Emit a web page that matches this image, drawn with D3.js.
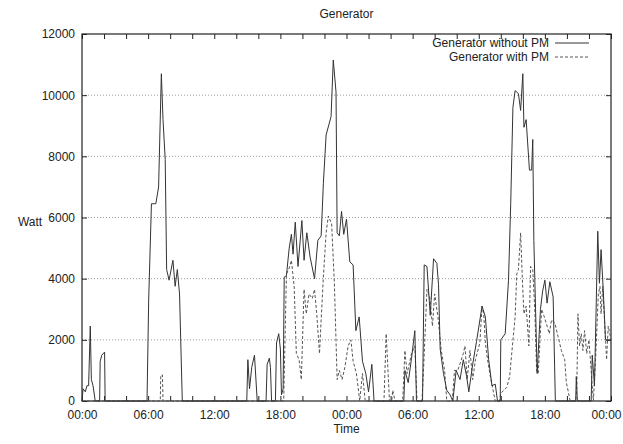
<!DOCTYPE html>
<html>
<head>
<meta charset="utf-8">
<script src="https://cdn.jsdelivr.net/npm/d3@7"></script>
<style>
  body { margin: 0; background: #fff; }
  text { font-family: "Liberation Sans", Arial, sans-serif; font-size: 12px; fill: #222; }
</style>
</head>
<body>
<script>
// hours since start (two days), watts
var withoutPm = [
  [0,0],[0.1,400],[0.3,300],[0.45,500],[0.6,500],[0.75,2450],[0.85,700],[1.0,500],[1.2,0],
  [1.6,0],[1.65,1300],[1.8,1500],[2.05,1600],[2.1,0],
  [5.9,0],[6.05,3300],[6.3,6450],[6.7,6450],[6.95,7000],[7.2,10700],[7.35,9200],[7.55,7900],
  [7.68,4300],[7.9,3950],[8.25,4600],[8.45,3750],[8.65,4300],[8.85,3500],[9.1,0],
  [14.95,0],[15.05,1350],[15.2,400],[15.4,1100],[15.65,1500],[15.9,0],
  [16.7,0],[16.8,1200],[17.0,1400],[17.1,1100],[17.2,0],
  [17.55,0],[17.65,1900],[17.85,2200],[18.0,1700],[18.1,200],[18.25,400],
  [18.35,4050],[18.55,4100],[18.8,5000],[19.0,5450],[19.15,4800],[19.35,5850],[19.6,4400],
  [19.95,5900],[20.15,4600],[20.4,5500],[20.7,4700],[21.1,4000],[21.4,5250],[21.7,5400],
  [21.9,7100],[22.15,8700],[22.6,9300],[22.8,11150],[23.05,10100],[23.15,5500],[23.35,5400],
  [23.55,6200],[23.75,5450],[24.0,5950],[24.3,4550],[24.6,4450],[24.85,2300],[25.15,2750],
  [25.45,1300],[25.75,900],[26.0,300],[26.3,1200],[26.5,0],
  [29.2,0],[29.3,1000],[29.6,600],[29.9,1400],[30.2,2300],[30.35,0],
  [30.9,0],[31.05,4450],[31.3,4400],[31.6,2800],[31.9,4650],[32.2,4500],[32.35,3800],
  [32.5,1700],[32.8,900],[33.1,350],[33.4,200],[33.65,0],[33.95,1000],[34.3,700],[34.6,1350],
  [34.9,800],[35.1,300],[35.45,1200],[35.8,1950],[36.3,3100],[36.6,2750],[36.9,1350],
  [37.2,500],[37.5,550],[37.7,0],[37.95,0],[38.0,2000],[38.4,2200],[38.7,3950],[38.9,6450],
  [39.1,9600],[39.3,10150],[39.6,10050],[39.8,9500],[40.0,10700],[40.1,8950],[40.3,9200],
  [40.6,7550],[40.8,7550],[40.9,8550],[41.0,5250],[41.3,900],[41.6,3000],[41.8,3600],
  [42.0,3950],[42.2,3200],[42.45,3900],[42.75,3400],[42.95,0],
  [44.8,0],[44.85,800],[44.95,0],
  [46.2,0],[46.3,1500],[46.5,500],[46.8,5550],[46.95,3850],[47.1,4950],[47.3,3600],
  [47.5,2000],[47.95,2000],[48,2000]
];

var withPm = [
  [0,0],[7.1,0],[7.15,850],[7.3,850],[7.35,0],
  [18.3,0],[18.55,4150],[18.8,4350],[19.0,4600],[19.25,3750],[19.45,1550],[19.7,1350],
  [19.9,700],[20.15,3650],[20.35,2850],[20.6,3500],[20.9,3350],[21.1,3650],[21.3,2850],
  [21.55,1550],[21.7,2650],[21.9,4050],[22.15,5500],[22.35,6050],[22.65,5800],[22.9,3850],
  [23.15,700],[23.35,1000],[23.6,700],[23.85,1100],[24.15,1800],[24.4,2000],[24.6,1300],
  [24.9,900],[25.2,0],[25.45,900],[25.7,0],
  [27.4,0],[27.6,2200],[27.9,0],[28.1,0],[28.2,350],[28.4,0],
  [29.1,0],[29.3,1650],[29.5,900],[29.9,1550],[30.2,1800],[30.4,0],
  [30.85,0],[31.0,1100],[31.3,3650],[31.55,3400],[31.8,2450],[32.0,3500],[32.3,2750],
  [32.6,1650],[32.9,1000],[33.1,0],[33.6,0],[33.8,1000],[34.1,1000],[34.6,1550],
  [34.75,1800],[34.95,700],[35.2,1650],[35.45,700],[35.7,1350],[36.1,1900],[36.3,3100],
  [36.45,2850],[36.6,1900],[36.8,1350],[37.1,700],[37.5,0],[37.9,0],[38.0,250],[38.55,450],
  [38.8,800],[39.3,2750],[39.45,4150],[39.6,4300],[39.8,5500],[39.95,4050],[40.1,2850],
  [40.3,3100],[40.55,1800],[40.7,4400],[40.9,4300],[41.1,2850],[41.25,1000],[41.4,900],
  [41.7,3000],[41.9,2800],[42.2,2450],[42.4,2200],[42.6,2650],[42.9,2550],[43.2,2100],
  [43.5,1650],[43.8,1350],[43.95,600],[44.3,0],[44.8,0],[44.9,450],[45.0,2850],[45.15,1800],
  [45.3,2200],[45.45,1650],[45.6,2300],[45.8,1550],[46.0,2000],[46.2,1000],[46.4,0],
  [46.6,1350],[46.85,3500],[47.0,3750],[47.1,2850],[47.25,3750],[47.6,1350],[47.75,2450],
  [48,2000]
];

var yTicks = [0, 2000, 4000, 6000, 8000, 10000, 12000];
var xTicks = d3.range(0, 49, 2);
var xLabelHours = [0, 6, 12, 18, 24, 30, 36, 42, 48];
var seriesNames = ["Generator without PM", "Generator with PM"];

var margin = { top: 34, right: 12, bottom: 43, left: 82 };
var width = 623 - margin.left - margin.right;
var height = 444 - margin.top - margin.bottom;

var svg = d3.select("body").append("svg")
    .attr("width", 623)
    .attr("height", 444);

var g = svg.append("g")
    .attr("transform", "translate(" + margin.left + "," + margin.top + ")");

var x = d3.scaleLinear().domain([0, 48]).range([0, width]);
var y = d3.scaleLinear().domain([0, 12000]).range([height, 0]);

function hourLabel(h) {
    return d3.format("02")(h % 24) + ":00";
}

// horizontal dotted grid
g.selectAll(".grid")
    .data(yTicks.filter(function(d) { return d > 0 && d < 12000; }))
    .enter().append("line")
    .attr("x1", 0).attr("x2", width)
    .attr("y1", function(d) { return y(d); })
    .attr("y2", function(d) { return y(d); })
    .attr("stroke", "#999")
    .attr("stroke-width", 1)
    .attr("stroke-dasharray", "1,2");

// axes with inward ticks on all four sides
var bottom = g.append("g")
    .attr("transform", "translate(0," + height + ")")
    .call(d3.axisBottom(x).tickValues(xTicks).tickSizeInner(-5).tickSizeOuter(0)
        .tickFormat(function(d) { return xLabelHours.indexOf(d) >= 0 ? hourLabel(d) : ""; }));
bottom.selectAll("text").attr("y", 9);
// keep the last label inside the window
bottom.selectAll(".tick text").filter(function(d) { return d == 48; })
    .attr("text-anchor", "end").attr("x", 10);

g.append("g")
    .call(d3.axisTop(x).tickValues(xTicks).tickSizeInner(-5).tickSizeOuter(0).tickFormat(""));

var left = g.append("g")
    .call(d3.axisLeft(y).tickValues(yTicks).tickSizeInner(-5).tickSizeOuter(0)
        .tickFormat(d3.format("d")));
left.selectAll("text").attr("x", -7);

g.append("g")
    .attr("transform", "translate(" + width + ",0)")
    .call(d3.axisRight(y).tickValues(yTicks).tickSizeInner(-5).tickSizeOuter(0).tickFormat(""));

g.selectAll(".domain").remove();
g.selectAll(".tick line").attr("stroke", "#222");
g.selectAll(".tick text").style("font-size", "12px").attr("fill", "#222");

g.append("rect")
    .attr("width", width).attr("height", height)
    .attr("fill", "none").attr("stroke", "#222").attr("stroke-width", 1.2);

var line = d3.line()
    .x(function(d) { return x(d[0]); })
    .y(function(d) { return y(d[1]); });

g.append("path")
    .datum(withPm)
    .attr("d", line)
    .attr("fill", "none")
    .attr("stroke", "#555")
    .attr("stroke-width", 1)
    .attr("stroke-dasharray", "3,2");

g.append("path")
    .datum(withoutPm)
    .attr("d", line)
    .attr("fill", "none")
    .attr("stroke", "#333")
    .attr("stroke-width", 1);

// legend
var legend = g.append("g").attr("transform", "translate(" + (width - 62) + ",0)");
seriesNames.forEach(function(name, i) {
    var ly = 9 + i * 14;
    legend.append("text")
        .attr("x", 0).attr("y", ly + 4)
        .attr("text-anchor", "end")
        .text(name);
    legend.append("line")
        .attr("x1", 6).attr("x2", 40)
        .attr("y1", ly).attr("y2", ly)
        .attr("stroke", i == 0 ? "#333" : "#555")
        .attr("stroke-dasharray", i == 0 ? null : "3,2");
});

// titles
svg.append("text")
    .attr("x", margin.left + width / 2).attr("y", 18)
    .attr("text-anchor", "middle")
    .text("Generator");

svg.append("text")
    .attr("x", margin.left + width / 2).attr("y", 433)
    .attr("text-anchor", "middle")
    .text("Time");

svg.append("text")
    .attr("x", 30).attr("y", 226)
    .attr("text-anchor", "middle")
    .text("Watt");
</script>
</body>
</html>
